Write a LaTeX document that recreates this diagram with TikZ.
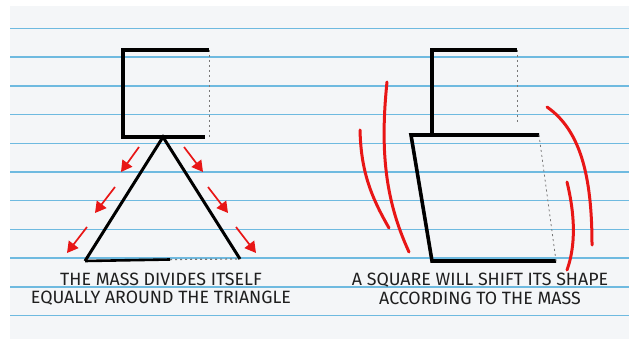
\documentclass[tikz,border=0pt]{standalone}
\usepackage{fontspec}
\setmainfont{Fira Sans}
\usetikzlibrary{arrows.meta}
\definecolor{paper}{RGB}{244,246,248}
\definecolor{rule}{RGB}{110,186,224}
\definecolor{redink}{RGB}{232,22,22}
\definecolor{faint}{RGB}{120,120,120}
\tikzset{
  ink/.style={line width=3.6pt, line join=miter, line cap=butt, black},
  ghost/.style={line width=0.8pt, faint, dash pattern=on 2pt off 3pt},
  redarrow/.style={line width=1.7pt, redink, -{Triangle[length=11pt,width=12pt]}},
  redstroke/.style={line width=3pt, redink, line cap=round},
  caption/.style={align=center, font=\fontsize{17.8}{18.5}\selectfont, text=black!88, inner sep=0pt},
}
\begin{document}
\begin{tikzpicture}[x=1pt,y=-1pt]
\useasboundingbox (0,0) rectangle (629,339);
\fill[white] (0,0) rectangle (629,339);
\fill[paper] (10,6) rectangle (629,339);
\foreach \y in {28.5,57.2,85.9,114.6,143.3,172,200.7,229.4,258.1,286.8,315.5}
  \draw[rule, line width=1.4pt] (10,\y) -- (629,\y);

% ---------- left figure ----------
\coordinate (lsA) at (209,50);
\coordinate (lsB) at (123,50);
\coordinate (lsC) at (123,137);
\coordinate (lsD) at (205,137);
\coordinate (lsE) at (209,137);
\draw[ink] (lsA) -- (lsB) -- (lsC) -- (lsD);
\draw[ghost] (lsA) -- (lsE);

\coordinate (apex) at (163,137);
\coordinate (tl) at (85,261);
\coordinate (tr) at (240,259);
\coordinate (tm) at (170,259.5);
\draw[ink, line width=3pt] (tr) -- (apex) -- (tl);
\draw[ink, line width=2.6pt] (tl) -- (tm);
\draw[ghost, line width=1.2pt] (tm) -- (tr);

\coordinate (a1s) at (139,147); \coordinate (a1e) at (121,172);
\coordinate (a2s) at (115,187); \coordinate (a2e) at (95,213);
\coordinate (a3s) at (87,227);  \coordinate (a3e) at (67,253);
\coordinate (b1s) at (184,147); \coordinate (b1e) at (203,172);
\coordinate (b2s) at (208,187); \coordinate (b2e) at (228,213);
\coordinate (b3s) at (236,227); \coordinate (b3e) at (256,253);
\foreach \s/\e in {a1s/a1e,a2s/a2e,a3s/a3e,b1s/b1e,b2s/b2e,b3s/b3e}
  \draw[redarrow] (\s) -- (\e);

\node[caption] (lcap) at (161,289) {THE MASS DIVIDES ITSELF\\EQUALLY AROUND THE TRIANGLE};

% ---------- right figure ----------
\coordinate (rsA) at (517,50);
\coordinate (rsB) at (432,50);
\coordinate (rsC) at (432,135);
\coordinate (rsE) at (517,122);
\draw[ink] (rsA) -- (rsB) -- (rsC);
\draw[ghost] (rsA) -- (rsE);

\coordinate (pA) at (539,135);
\coordinate (pB) at (411,135);
\coordinate (pC) at (432,261);
\coordinate (pD) at (556,261);
\draw[ink] (pA) -- (pB) -- (pC) -- (pD);
\draw[ghost] (pA) -- (pD);

\coordinate (r1s) at (360,130); \coordinate (r1e) at (389,228);
\coordinate (r2s) at (387,82);  \coordinate (r2e) at (409,252);
\coordinate (r3s) at (547,107); \coordinate (r3e) at (592,245);
\coordinate (r4s) at (567,182); \coordinate (r4e) at (567,270);
\draw[redstroke] (r1s) .. controls (361,170) and (370,195) .. (r1e);
\draw[redstroke] (r2s) .. controls (380,150) and (385,200) .. (r2e);
\draw[redstroke] (r3s) .. controls (580,130) and (592,175) .. (r3e);
\draw[redstroke] (r4s) .. controls (575,215) and (576,245) .. (r4e);

\node[caption] (rcap) at (480,289) {A SQUARE WILL SHIFT ITS SHAPE\\ACCORDING TO THE MASS};
\end{tikzpicture}
\end{document}
